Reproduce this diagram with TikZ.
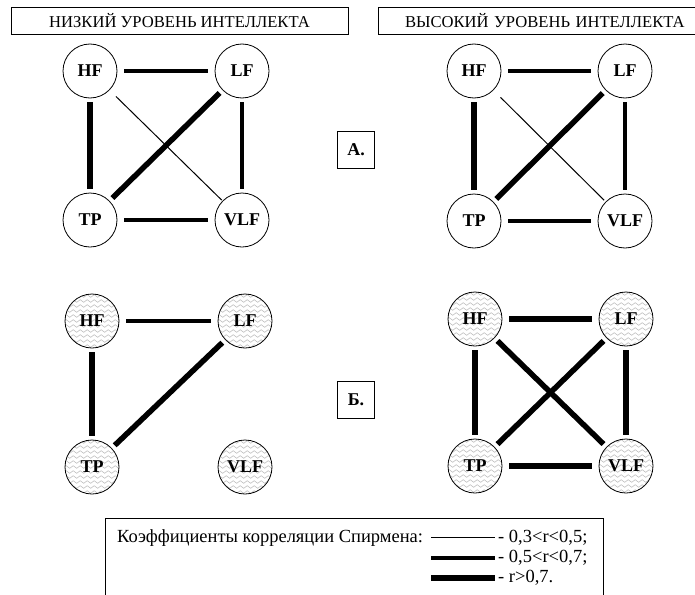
\documentclass[tikz,border=0pt]{standalone}
\usepackage{fontspec}
\setmainfont{Liberation Serif}
\usetikzlibrary{decorations.pathmorphing}
\begin{document}
\begin{tikzpicture}[x=1pt,y=-1pt,
  nd/.style={circle, draw, line width=0.8pt, minimum size=54pt, inner sep=0pt,
    font=\bfseries\fontsize{18}{18}\selectfont},
  wv/.style={nd, path picture={
    \foreach \k in {-6,...,6}
      \draw[gray!50, line width=0.6pt, decorate,
        decoration={snake, segment length=7pt, amplitude=1.3pt}]
        ([xshift=-8pt,yshift=\k*5pt]path picture bounding box.west) --
        ([xshift=8pt,yshift=\k*5pt]path picture bounding box.east);}},
  e1/.style={line width=1pt},
  e2/.style={line width=3.5pt},
  e3/.style={line width=5.5pt},
  hz/.style={shorten <=7pt, shorten >=7pt},
  vt/.style={shorten <=4pt, shorten >=4pt},
  dg/.style={shorten <=4pt, shorten >=4pt},
  hdr/.style={draw, line width=0.8pt, inner sep=0pt, font=\fontsize{16.6}{16.6}\selectfont},
  lbl/.style={draw, line width=0.8pt, minimum width=37pt, minimum height=37pt, inner sep=0pt,
    font=\bfseries\fontsize{18}{18}\selectfont},
  txt/.style={inner sep=0pt, anchor=base west, font=\fontsize{18.5}{18.5}\selectfont}
]
\useasboundingbox (0,0) rectangle (695,594);

% headers
\node[hdr, minimum width=337pt, minimum height=27pt] (h1) at (179.5,20.5) {НИЗКИЙ УРОВЕНЬ ИНТЕЛЛЕКТА};
\node[hdr, minimum width=320pt, minimum height=27pt, text width=320pt, align=left] (h2) at (538,20.5) {\hspace{27pt}ВЫСОКИЙ УРОВЕНЬ ИНТЕЛЛЕКТА};

% labels
\node[lbl] (la) at (356,150) {А.};
\node[lbl] (lb) at (356,400) {Б.};

% Left A
\node[nd] (a1) at (90,71) {HF};
\node[nd] (a2) at (242,71) {LF};
\node[nd] (a3) at (90,220) {TP};
\node[nd] (a4) at (242,220) {VLF};
\draw[e2,hz] (a1) -- (a2);
\draw[e3,vt] (a1) -- (a3);
\draw[e3,dg] (a2) -- (a3);
\draw[e1,shorten <=9pt, shorten >=1pt] (a1) -- (a4);
\draw[e2,vt] (a2) -- (a4);
\draw[e2,hz] (a3) -- (a4);

% Right A
\node[nd] (b1) at (474,71) {HF};
\node[nd] (b2) at (625,71) {LF};
\node[nd] (b3) at (474,221) {TP};
\node[nd] (b4) at (625,221) {VLF};
\draw[e2,hz] (b1) -- (b2);
\draw[e3,vt] (b1) -- (b3);
\draw[e3,dg] (b2) -- (b3);
\draw[e1,shorten <=10pt, shorten >=2pt] (b1) -- (b4);
\draw[e2,vt] (b2) -- (b4);
\draw[e2,hz] (b3) -- (b4);

% Left B
\node[wv] (c1) at (92,321) {HF};
\node[wv] (c2) at (245,321) {LF};
\node[wv] (c3) at (92,467) {TP};
\node[wv] (c4) at (245,467) {VLF};
\draw[e2,hz] (c1) -- (c2);
\draw[e3,vt] (c1) -- (c3);
\draw[e3,dg] (c2) -- (c3);

% Right B
\node[wv] (d1) at (475,319) {HF};
\node[wv] (d2) at (626,319) {LF};
\node[wv] (d3) at (475,466) {TP};
\node[wv] (d4) at (626,466) {VLF};
\draw[e3,hz] (d1) -- (d2);
\draw[e3,vt] (d1) -- (d3);
\draw[e3,dg] (d2) -- (d3);
\draw[e3,dg] (d1) -- (d4);
\draw[e3,vt] (d2) -- (d4);
\draw[e3,hz] (d3) -- (d4);

% Legend
\node[draw, line width=0.8pt, minimum width=498pt, minimum height=80pt, inner sep=0pt] (lg) at (354,558) {};
\node[txt] (lt) at (117,542) {Коэффициенты корреляции Спирмена:};
\coordinate (s1) at (431,537);
\coordinate (t1) at (495,537);
\coordinate (s2) at (431,558);
\coordinate (t2) at (495,558);
\coordinate (s3) at (431,578);
\coordinate (t3) at (495,578);
\draw[e1] (s1) -- (t1);
\draw[line width=4pt] (s2) -- (t2);
\draw[line width=6pt] (s3) -- (t3);
\node[txt] (l1) at (498,542) {- 0,3<r<0,5;};
\node[txt] (l2) at (498,562) {- 0,5<r<0,7;};
\node[txt] (l3) at (498,582) {- r>0,7.};
\end{tikzpicture}
\end{document}
